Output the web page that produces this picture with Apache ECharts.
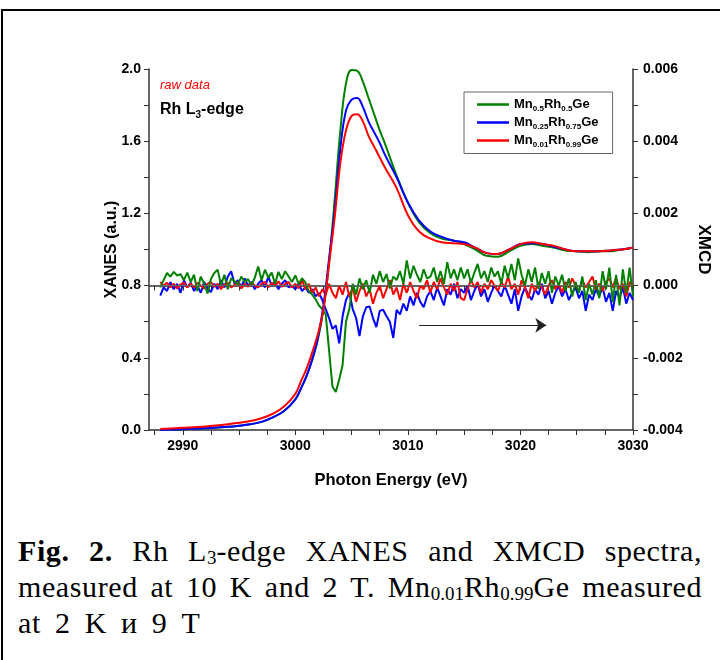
<!DOCTYPE html>
<html>
<head>
<meta charset="utf-8">
<script src="https://cdn.jsdelivr.net/npm/echarts@6/dist/echarts.min.js"></script>
<style>
  body { margin: 0; background: #fff; }
  .frame {
    position: absolute; left: 1px; top: 9px; width: 760px; height: 700px;
    border-top: 2px solid #000; border-left: 2px solid #000;
  }
  #chart { position: absolute; left: 0; top: 0; width: 720px; height: 500px; }
  .caption {
    position: absolute; left: 18px; top: 533px; width: 684px;
    font-family: "Liberation Serif", serif; font-size: 30px; line-height: 36px; color: #000;
    letter-spacing: 0.6px;
  }
  .caption div { text-align: justify; text-align-last: justify; white-space: nowrap; }
  .caption div.last { text-align: left; text-align-last: left; word-spacing: 6px; }
  .caption sub { font-size: 19px; vertical-align: -3px; line-height: 0; letter-spacing: 0; }
</style>
</head>
<body>
<div class="frame"></div>
<div id="chart"></div>
<div class="caption">
  <div><b>Fig. 2.</b> Rh L<sub>3</sub>-edge XANES and XMCD spectra,</div>
  <div>measured at 10 K and 2 T. Mn<sub>0.01</sub>Rh<sub>0.99</sub>Ge measured</div>
  <div class="last">at 2 K и 9 T</div>
</div>
<script>
// names of the samples
const seriesNames = ['Mn0.5Rh0.5Ge', 'Mn0.25Rh0.75Ge', 'Mn0.01Rh0.99Ge'];

// XANES (left axis, a.u.)
const xanesEnergy = [2988, 2990, 2992, 2994, 2995, 2996, 2997, 2998, 2999, 3000, 3000.5, 3001, 3001.5, 3002, 3002.5,
  3003, 3003.5, 3004, 3004.5, 3005, 3005.5, 3006, 3006.5, 3007, 3007.5, 3008, 3009, 3010, 3011, 3012, 3013,
  3014, 3015, 3016, 3017, 3018, 3019, 3020, 3021, 3022, 3023, 3024, 3025, 3026, 3027, 3028, 3029, 3030];
const greenXanes = [0.0, 0.004, 0.01, 0.018, 0.024, 0.032, 0.045, 0.07, 0.105, 0.17, 0.23, 0.30, 0.39, 0.50, 0.67,
  0.93, 1.28, 1.66, 1.92, 1.995, 1.99, 1.93, 1.84, 1.75, 1.66, 1.58, 1.41, 1.26, 1.15, 1.09, 1.06,
  1.05, 1.03, 1.00, 0.965, 0.96, 0.99, 1.02, 1.03, 1.02, 1.01, 0.995, 0.99, 0.985, 0.99, 0.99, 1.0, 1.01];
const blueXanes = [0.0, 0.004, 0.01, 0.018, 0.024, 0.032, 0.045, 0.07, 0.105, 0.17, 0.23, 0.30, 0.39, 0.51, 0.69,
  0.95, 1.22, 1.56, 1.77, 1.83, 1.84, 1.79, 1.71, 1.65, 1.59, 1.52, 1.40, 1.26, 1.16, 1.10, 1.07,
  1.05, 1.04, 1.01, 0.98, 0.975, 1.00, 1.03, 1.035, 1.03, 1.015, 1.0, 0.99, 0.99, 0.99, 0.995, 1.0, 1.01];
const redXanes = [0.005, 0.012, 0.02, 0.032, 0.04, 0.05, 0.065, 0.09, 0.13, 0.20, 0.27, 0.34, 0.43, 0.53, 0.67,
  0.92, 1.18, 1.48, 1.66, 1.74, 1.75, 1.71, 1.63, 1.57, 1.51, 1.45, 1.34, 1.19, 1.10, 1.06, 1.04,
  1.035, 1.03, 1.01, 0.98, 0.975, 1.00, 1.03, 1.04, 1.03, 1.02, 1.0, 0.99, 0.99, 0.99, 0.995, 1.0, 1.01];

// XMCD (right axis), read in units of 1e-4, sampled every 0.3 eV from 2988 eV
const xmcdStart = 2988;
const xmcdStep = 0.3;
const greenXmcd = [
  -0.5, 1.5, 3.5, 2.5, 3.8, 2.8, 3.2, 1.5, 3.6, 1.0,
  3.0, -1.5, 2.5, 0.5, -2.2, 1.8, 3.5, 4.4, 0.2, 3.0,
  -1.0, 2.0, 1.2, 0.3, 2.5, 1.0, 1.8, 0.0, 2.2, 5.3,
  1.5, 4.4, 2.2, 3.6, 0.5, 3.8, 1.8, 4.0, 2.5, 1.0,
  2.8, 0.5, 2.0, 0.8, -1.5, -2.5, -3.8, -5.5, -6.5, -8.0,
  -18, -28, -29.5, -26, -22, -10, -6.5, 0.5, -2.5, 2.0,
  -1.0, 1.5, -2.0, 3.0, 0.5, 4.0, 1.0, 3.2, -0.8, 2.5,
  1.5, 4.0, 0.5, 7.0, 2.0, 5.5, 3.0, 1.0, 4.5, 2.0,
  2.5, 5.0, 1.0, 4.0, 0.5, 6.5, 2.0, 4.5, 1.5, 5.0,
  2.0, 4.5, 0.8, 3.5, 6.0, 2.0, 4.0, 1.0, 5.0, 2.5,
  4.0, 0.5, 5.5, 2.0, 6.0, 1.5, 7.5, 3.0, 0.0, 4.5,
  1.0, 5.0, -1.0, 3.5, 0.5, 4.0, -2.0, 2.5, 0.0, 3.0,
  -1.5, 2.0, -3.0, 1.0, -2.0, 2.5, -4.0, 0.5, -2.5, 1.5,
  -3.5, 4.0, -1.0, 5.0, -4.5, 3.0, -5.5, 4.5, -2.0, 5.0,
  -3.0];
const blueXmcd = [
  -2.8, -0.5, -1.5, 1.0, -1.0, 0.5, -2.0, 1.5, -0.5, 0.8,
  -1.5, 0.0, -2.0, 1.0, -0.8, -1.8, 0.5, -1.0, 1.5, -0.5,
  2.5, 4.0, 0.5, 1.5, -0.5, 2.0, 0.0, 1.0, -1.0, 0.5,
  1.5, -0.5, 2.5, 0.0, 1.0, -1.0, 0.5, 1.5, -0.5, 0.0,
  -1.0, 0.5, -1.5, -0.5, -2.0, -1.0, -3.0, -2.0, -4.0, -6.5,
  -9.0, -12, -11, -16, -8.5, -4.0, -2.0, -6.5, -9.0, -14,
  -8.5, -6.0, -5.8, -9.0, -11.5, -7.0, -6.7, -8.5, -10, -14.5,
  -6.7, -8.0, -5.0, -7.0, -3.0, -5.5, -2.0, -4.5, -6.0, -3.0,
  -1.5, -4.0, -0.5, -3.0, -5.5, -1.0, -2.5, 0.5, -3.5, -1.0,
  -2.0, 0.0, -4.0, -1.5, 0.5, -3.0, -1.0, -4.5, -2.0, 0.0,
  -1.5, -3.0, 0.0, -2.5, -5.0, -1.0, -7.0, -3.0, -0.5, -2.5,
  -4.0, -1.0, -2.5, 0.5, -3.5, -1.5, -5.0, -2.0, 0.0, -3.0,
  -1.0, -4.0, -2.0, -0.5, -3.5, -1.5, -7.0, -2.5, -4.0, -1.0,
  -3.0, -0.5, -4.5, -2.0, -7.0, -1.5, -3.5, -0.5, -5.0, -2.0,
  -4.0];
const redXmcd = [
  1.0, 0.0, 0.8, -0.5, 0.5, -0.8, 0.3, 0.8, -0.5, 0.5,
  -0.5, 0.8, 0.0, -0.8, 0.5, 1.0, -0.3, 0.5, -1.0, 0.3,
  0.8, -0.5, 0.2, 1.0, -0.8, 0.5, -0.3, 0.8, 0.0, -0.5,
  0.5, 1.0, -0.5, 0.8, 0.0, 1.2, -0.3, 0.5, 1.0, -0.5,
  0.5, -0.8, 1.5, -1.0, 0.5, -2.0, -0.5, -3.0, -1.0, -2.5,
  0.5, -2.0, -3.5, 0.0, -2.5, 1.0, -3.0, -0.5, -4.5, -1.5,
  0.5, -3.0, -1.0, -5.0, -2.0, 0.0, -3.5, -1.0, 1.5, -2.5,
  -0.5, -4.0, 0.5, -2.0, 1.0, -1.5, -3.5, 0.0, -1.0, 1.5,
  -2.0, 1.0, -1.0, 2.0, -0.5, -2.5, 0.5, -1.5, 1.0, -3.5,
  -4.0, -1.0, 1.5, -0.5, 1.0, -2.0, 0.5, -1.0, 1.5, 0.0,
  -1.5, 1.0, -0.5, 2.5, -1.0, 0.5, -2.5, 1.5, -0.5, -3.5,
  0.5, -1.5, 1.0, -0.5, -2.5, 0.0, 1.5, -1.0, 0.5, -2.0,
  1.0, -0.5, 2.0, 0.0, -1.5, 1.5, -0.5, 1.0, 2.5, -1.0,
  0.5, -1.5, 1.0, 2.0, -0.5, 2.2, -1.0, 0.5, -3.0, 1.0,
  0.0];

// axis ticks
const xTickLabels = [2990, 3000, 3010, 3020, 3030];
const xTicks = [2987.5, 2990, 2992.5, 2995, 2997.5, 3000, 3002.5, 3005, 3007.5, 3010, 3012.5, 3015,
  3017.5, 3020, 3022.5, 3025, 3027.5, 3030];

const colors = ['#008000', '#0000ff', '#ff0000'];
const font = '"Liberation Sans", Arial, sans-serif';

function xanesPairs(values) {
  return xanesEnergy.map((e, i) => [e, values[i]]);
}
function xmcdPairs(values) {
  return values.map((v, i) => [+(xmcdStart + xmcdStep * i).toFixed(2), v * 1e-4]);
}

const legendLabels = {
  'Mn0.5Rh0.5Ge': '{b|Mn}{s|0.5}{b|Rh}{s|0.5}{b|Ge}',
  'Mn0.25Rh0.75Ge': '{b|Mn}{s|0.25}{b|Rh}{s|0.75}{b|Ge}',
  'Mn0.01Rh0.99Ge': '{b|Mn}{s|0.01}{b|Rh}{s|0.99}{b|Ge}'
};

const axisLine = { show: true, lineStyle: { color: '#333', width: 1.5 } };
const labelStyle = { color: '#000', fontFamily: font, fontWeight: 'bold', fontSize: 14 };
const nameStyle = { color: '#000', fontFamily: font, fontWeight: 'bold', fontSize: 16 };

let myChart = echarts.init(document.getElementById('chart'));

const option = {
  animation: false,
  textStyle: { fontFamily: font },
  grid: { left: 149, right: 84, top: 69, bottom: 70 },
  legend: {
    data: seriesNames,
    orient: 'vertical',
    left: 464,
    top: 92,
    padding: [6, 14, 5, 13],
    itemGap: 3.5,
    itemWidth: 32,
    itemHeight: 2.5,
    icon: 'rect',
    borderColor: '#666',
    borderWidth: 1,
    formatter: name => legendLabels[name],
    textStyle: {
      rich: {
        b: { fontFamily: font, fontWeight: 'bold', fontSize: 13, color: '#000', lineHeight: 16 },
        s: { fontFamily: font, fontWeight: 'bold', fontSize: 8, color: '#000', verticalAlign: 'bottom' }
      }
    }
  },
  xAxis: [
    {
      type: 'value', min: 2987, max: 3030,
      name: 'Photon Energy (eV)', nameLocation: 'middle', nameGap: 42, nameMoveOverlap: false,
      nameTextStyle: Object.assign({}, nameStyle, { fontSize: 16.5 }),
      axisLine: axisLine,
      axisTick: { show: true, length: 5, customValues: xTicks, lineStyle: { color: '#333' } },
      axisLabel: Object.assign({ customValues: xTickLabels, margin: 9, formatter: v => String(v) }, labelStyle),
      splitLine: { show: false }
    },
    {
      type: 'value', min: 2987, max: 3030, position: 'top',
      axisLine: axisLine,
      axisTick: { show: true, inside: true, length: 5, customValues: xTicks, lineStyle: { color: '#333' } },
      axisLabel: { show: false },
      splitLine: { show: false }
    }
  ],
  yAxis: [
    {
      type: 'value', min: 0, max: 2.0, interval: 0.4,
      name: 'XANES (a.u.)', nameLocation: 'middle', nameGap: 29, nameMoveOverlap: false,
      nameTextStyle: nameStyle,
      axisLine: axisLine,
      axisTick: { show: true, length: 5, lineStyle: { color: '#333' } },
      minorTick: { show: true, splitNumber: 2, length: 5, lineStyle: { color: '#333' } },
      axisLabel: Object.assign({ margin: 8, formatter: v => v.toFixed(1) }, labelStyle),
      splitLine: { show: false }
    },
    {
      type: 'value', min: -0.004, max: 0.006, interval: 0.002,
      name: 'XMCD', nameLocation: 'middle', nameGap: 62, nameRotate: -90, nameMoveOverlap: false,
      nameTextStyle: Object.assign({}, nameStyle, { fontSize: 17 }),
      axisLine: axisLine,
      axisTick: { show: true, length: 5, lineStyle: { color: '#333' } },
      minorTick: { show: true, splitNumber: 2, length: 5, lineStyle: { color: '#333' } },
      axisLabel: Object.assign({ margin: 10, formatter: v => v.toFixed(3) }, labelStyle),
      splitLine: { show: false }
    }
  ],
  graphic: [
    {
      type: 'text', left: 160, top: 79,
      style: { text: 'raw data', fill: '#ff0000', font: 'italic 13px ' + font }
    },
    {
      type: 'text', left: 160, top: 102,
      style: {
        text: '{b|Rh L}{s|3}{b|-edge}',
        rich: {
          b: { fontFamily: font, fontWeight: 'bold', fontSize: 16, fill: '#000', lineHeight: 21 },
          s: { fontFamily: font, fontWeight: 'bold', fontSize: 10, fill: '#000', verticalAlign: 'bottom' }
        }
      }
    }
  ],
  series: [
    // XMCD first so XANES stays on top
    {
      name: seriesNames[1], type: 'line', yAxisIndex: 1, symbol: 'none',
      data: xmcdPairs(blueXmcd), lineStyle: { color: colors[1], width: 2 }, itemStyle: { color: colors[1] },
      markLine: {
        silent: true, symbol: 'none', label: { show: false },
        lineStyle: { color: '#666', width: 1, type: 'solid' },
        data: [{ yAxis: 0 }]
      }
    },
    {
      name: seriesNames[2], type: 'line', yAxisIndex: 1, symbol: 'none',
      data: xmcdPairs(redXmcd), lineStyle: { color: colors[2], width: 2 }, itemStyle: { color: colors[2] },
      markLine: {
        silent: true, symbol: ['none', 'arrow'], symbolSize: 11, label: { show: false },
        lineStyle: { color: '#222', width: 1, type: 'solid' },
        data: [[{ coord: [3011, -0.0011] }, { coord: [3022.3, -0.0011] }]]
      }
    },
    {
      name: seriesNames[0], type: 'line', yAxisIndex: 1, symbol: 'none',
      data: xmcdPairs(greenXmcd), lineStyle: { color: colors[0], width: 2 }, itemStyle: { color: colors[0] }
    },
    {
      name: seriesNames[0], type: 'line', yAxisIndex: 0, symbol: 'none', smooth: 0.4,
      data: xanesPairs(greenXanes), lineStyle: { color: colors[0], width: 2 }, itemStyle: { color: colors[0] }
    },
    {
      name: seriesNames[1], type: 'line', yAxisIndex: 0, symbol: 'none', smooth: 0.4,
      data: xanesPairs(blueXanes), lineStyle: { color: colors[1], width: 2 }, itemStyle: { color: colors[1] }
    },
    {
      name: seriesNames[2], type: 'line', yAxisIndex: 0, symbol: 'none', smooth: 0.4,
      data: xanesPairs(redXanes), lineStyle: { color: colors[2], width: 2 }, itemStyle: { color: colors[2] }
    }
  ]
};

myChart.setOption(option);
</script>
</body>
</html>
